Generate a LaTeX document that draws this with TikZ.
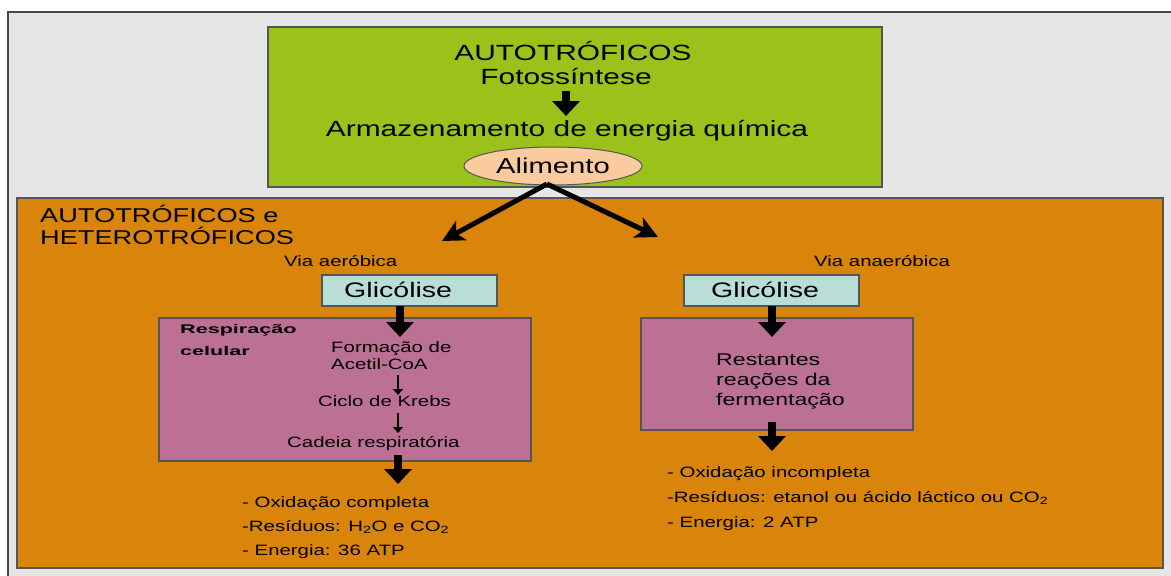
\documentclass[tikz,border=0pt]{standalone}
\usepackage{fontspec}
\setmainfont{Liberation Sans}[FakeStretch=1.36]
\usetikzlibrary{arrows.meta,shapes.geometric}
\definecolor{bggray}{RGB}{230,230,230}
\definecolor{framegray}{RGB}{70,70,70}
\definecolor{edgegray}{RGB}{85,85,85}
\definecolor{greenbox}{RGB}{154,194,26}
\definecolor{orangebox}{RGB}{217,132,10}
\definecolor{purplebox}{RGB}{188,112,148}
\definecolor{cyanbox}{RGB}{184,222,215}
\definecolor{peach}{RGB}{251,203,160}
\newcommand{\fs}[1]{\fontsize{#1}{#1}\selectfont}
\tikzset{
  panel/.style={draw=edgegray, line width=1.2pt, inner sep=0pt},
  txt/.style={inner sep=0pt, text=black},
  bigarrow/.style={line width=8pt, -{Triangle[length=15pt,width=27pt]}},
  smallarrow/.style={line width=2.2pt, -{Triangle[length=6pt,width=10pt]}},
  diagarrow/.style={line width=5pt, -{Stealth[length=22pt,width=22pt,inset=6pt]}}
}
\begin{document}
\begin{tikzpicture}[x=1pt,y=-1pt]
\useasboundingbox (0,0) rectangle (1171,576);
\fill[white] (0,0) rectangle (1171,576);
\filldraw[fill=bggray, draw=framegray, line width=2pt] (8,12) rectangle (1185,590);

% panels
\node[panel, fill=orangebox, minimum width=1146pt, minimum height=370pt] (orange) at (590,383) {};
\node[panel, fill=greenbox, minimum width=614pt, minimum height=160pt] (green) at (575,107) {};
\node[panel, fill=cyanbox, minimum width=175pt, minimum height=31pt] (glicL) at (409.5,290.5) {};
\node[panel, fill=cyanbox, minimum width=175pt, minimum height=31pt] (glicR) at (771.5,290.5) {};
\node[panel, fill=purplebox, minimum width=372pt, minimum height=143pt] (respL) at (345,389.5) {};
\node[panel, fill=purplebox, minimum width=272pt, minimum height=112pt] (fermR) at (777,374) {};
\node[ellipse, draw=edgegray, line width=1pt, fill=peach, minimum width=178pt, minimum height=38pt, inner sep=0pt] (alim) at (553,166) {};

% green texts
\node[txt, anchor=base] (auto) at (573,60) {\fs{22}AUTOTRÓFICOS};
\node[txt, anchor=base] (foto) at (566,84) {\fs{22}Fotossíntese};
\node[txt, anchor=base] (armaz) at (567,136) {\fs{22}Armazenamento de energia química};
\node[txt, anchor=base] (alimtxt) at (553,173) {\fs{21.5}Alimento};

% orange texts
\node[txt, anchor=base west] (autohet1) at (40,222) {\fs{20}AUTOTRÓFICOS e};
\node[txt, anchor=base west] (autohet2) at (40,244) {\fs{20}HETEROTRÓFICOS};
\node[txt, anchor=base west] (viaA) at (284,266) {\fs{15}Via aeróbica};
\node[txt, anchor=base west] (viaN) at (814,266) {\fs{15}Via anaeróbica};
\node[txt, anchor=base west] (glicLt) at (344,297) {\fs{21}Glicólise};
\node[txt, anchor=base west] (glicRt) at (711,297) {\fs{21}Glicólise};

% left purple texts
\node[txt, anchor=base west] (resp1) at (180,333) {\scalebox{1.26}[1]{\fs{12.6}\bfseries Respiração}};
\node[txt, anchor=base west] (resp2) at (180,355) {\scalebox{1.26}[1]{\fs{12.6}\bfseries celular}};
\node[txt, anchor=base west] (form1) at (331,352) {\fs{15}Formação de};
\node[txt, anchor=base west] (form2) at (331,369) {\fs{15}Acetil-CoA};
\node[txt, anchor=base west] (krebs) at (318,406) {\fs{15}Ciclo de Krebs};
\node[txt, anchor=base west] (cadeia) at (287,447) {\fs{15}Cadeia respiratória};

% right purple texts
\node[txt, anchor=base west] (rest1) at (716,365) {\fs{17}Restantes};
\node[txt, anchor=base west] (rest2) at (716,385) {\fs{17}reações da};
\node[txt, anchor=base west] (rest3) at (716,405) {\fs{17}fermentação};

% lists
\node[txt, anchor=base west] (la) at (242,507) {\fs{15}- Oxidação completa};
\node[txt, anchor=base west] (lb) at (242,531) {\fs{15}-Resíduos: H\textsubscript{2}O e CO\textsubscript{2}};
\node[txt, anchor=base west] (lc) at (242,555) {\fs{15}- Energia: 36 ATP};
\node[txt, anchor=base west] (ra) at (667,477) {\fs{15}- Oxidação incompleta};
\node[txt, anchor=base west] (rb) at (667,502) {\fs{15}-Resíduos: etanol ou ácido láctico ou CO\textsubscript{2}};
\node[txt, anchor=base west] (rc) at (667,527) {\fs{15}- Energia: 2 ATP};

% arrow end points
\coordinate (g1) at (566,91);
\coordinate (g2) at (566,116);
\coordinate (dL) at (442,241);
\coordinate (dR) at (658,237);
\coordinate (d0) at (547,184);
\coordinate (aL1) at (400,306);
\coordinate (aL2) at (400,337);
\coordinate (aR1) at (772,306);
\coordinate (aR2) at (772,337);
\coordinate (s1a) at (398,375);
\coordinate (s1b) at (398,395);
\coordinate (s2a) at (398,413);
\coordinate (s2b) at (398,433);
\coordinate (bL1) at (398,455);
\coordinate (bL2) at (398,484);
\coordinate (bR1) at (772,422);
\coordinate (bR2) at (772,451);

% arrows
\draw[bigarrow] (g1) -- (g2);
\draw[diagarrow] (d0) -- (dL);
\draw[diagarrow] (d0) -- (dR);
\draw[bigarrow] (aL1) -- (aL2);
\draw[bigarrow] (aR1) -- (aR2);
\draw[smallarrow] (s1a) -- (s1b);
\draw[smallarrow] (s2a) -- (s2b);
\draw[bigarrow] (bL1) -- (bL2);
\draw[bigarrow] (bR1) -- (bR2);
\end{tikzpicture}
\end{document}
